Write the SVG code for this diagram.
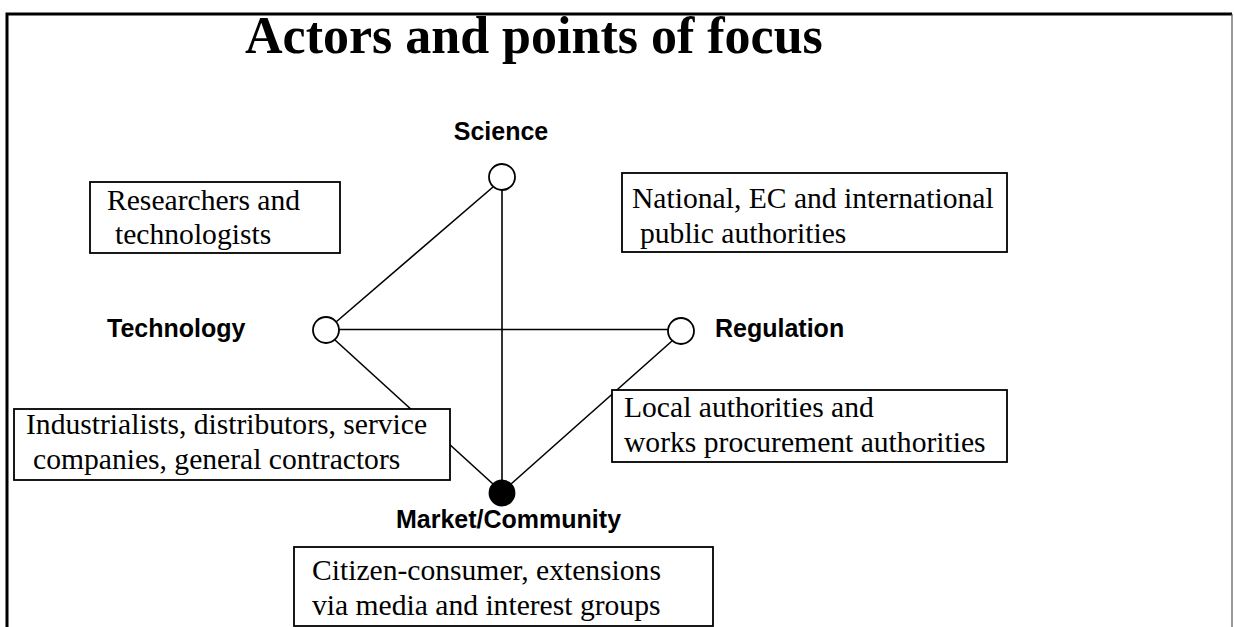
<svg xmlns="http://www.w3.org/2000/svg" width="1234" height="627" viewBox="0 0 1234 627">
  <style>
    .frame { fill: none; stroke: #000; stroke-width: 3; }
    .frame-side { fill: none; stroke: #555; stroke-width: 1.2; }
    .box { fill: #fff; stroke: #000; stroke-width: 1.8; }
    .body { font-family: "Liberation Serif", "Times New Roman", serif; font-size: 29.6px; fill: #000; }
    .label { font-family: "Liberation Sans", Arial, sans-serif; font-weight: bold; font-size: 25px; fill: #000; }
    .title { font-family: "Liberation Serif", "Times New Roman", serif; font-weight: bold; font-size: 52px; fill: #000; }
    .edge { stroke: #000; stroke-width: 1.6; fill: none; }
    .pt { fill: #fff; stroke: #000; stroke-width: 1.8; }
    .pt-filled { fill: #000; stroke: #000; stroke-width: 1.8; }
  </style>

  <rect width="1234" height="627" fill="#fff"/>

  <!-- open frame: heavy top and left rules, light right rule -->
  <path class="frame" d="M7,627 V14 H1232"/>
  <line class="frame-side" x1="1232" y1="14" x2="1232" y2="627"/>

  <text class="title" x="245" y="53">Actors and points of focus</text>

  <!-- connectors -->
  <g id="connectors">
    <line class="edge" x1="502" y1="190" x2="502" y2="481"/>
    <line class="edge" x1="493" y1="187" x2="336" y2="322"/>
    <line class="edge" x1="339" y1="329.5" x2="668" y2="329.5"/>
    <line class="edge" x1="335" y1="340" x2="493" y2="484"/>
    <line class="edge" x1="672" y1="341" x2="511" y2="484"/>
  </g>

  <!-- points of focus -->
  <g id="science">
    <circle class="pt" cx="502" cy="177" r="13"/>
    <text class="label" x="501" y="140" text-anchor="middle">Science</text>
  </g>
  <g id="technology">
    <circle class="pt" cx="326" cy="330" r="13"/>
    <text class="label" x="107" y="337">Technology</text>
  </g>
  <g id="regulation">
    <circle class="pt" cx="681" cy="331" r="13"/>
    <text class="label" x="715" y="337">Regulation</text>
  </g>
  <g id="market">
    <circle class="pt-filled" cx="502" cy="493" r="12.5"/>
    <text class="label" x="396" y="528">Market/Community</text>
  </g>

  <!-- actors -->
  <g id="researchers">
    <rect class="box" x="90" y="182" width="250" height="71"/>
    <text class="body" x="107" y="210">Researchers and</text>
    <text class="body" x="115" y="244">technologists</text>
  </g>
  <g id="public-authorities">
    <rect class="box" x="622" y="173" width="385" height="79"/>
    <text class="body" x="632" y="208">National, EC and international</text>
    <text class="body" x="640" y="243">public authorities</text>
  </g>
  <g id="industry">
    <rect class="box" x="14" y="409" width="436" height="71"/>
    <text class="body" x="26" y="434">Industrialists, distributors, service</text>
    <text class="body" x="33" y="469">companies, general contractors</text>
  </g>
  <g id="local-authorities">
    <rect class="box" x="612" y="390" width="395" height="72"/>
    <text class="body" x="624" y="417">Local authorities and</text>
    <text class="body" x="624" y="452">works procurement authorities</text>
  </g>
  <g id="citizens">
    <rect class="box" x="294" y="547" width="419" height="79"/>
    <text class="body" x="312" y="580">Citizen-consumer, extensions</text>
    <text class="body" x="312" y="615">via media and interest groups</text>
  </g>
</svg>
